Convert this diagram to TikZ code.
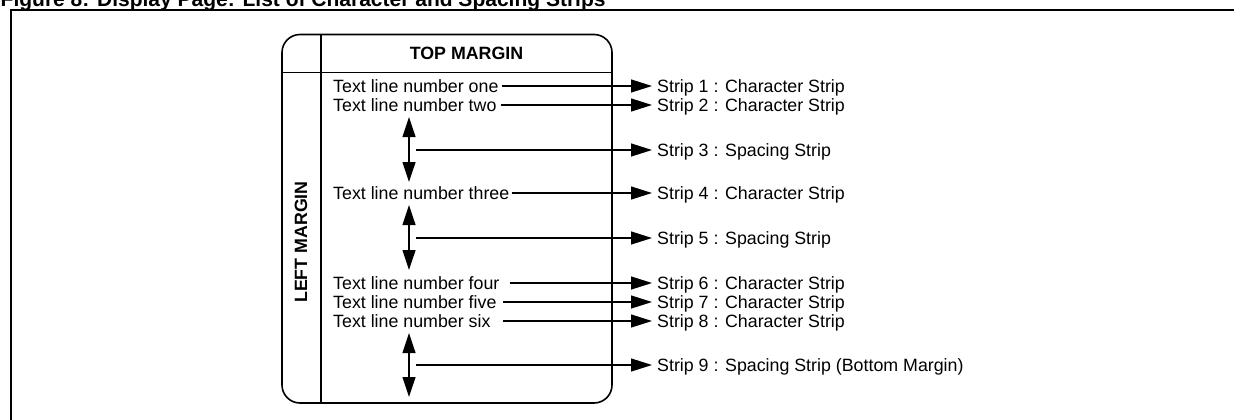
\documentclass[tikz,border=0pt]{standalone}
\usepackage{fontspec}
\setmainfont{Liberation Sans}
\usetikzlibrary{arrows.meta}
\begin{document}
\begin{tikzpicture}[x=1pt,y=-1pt,
  every node/.style={font=\fontsize{17.8}{18}\selectfont, inner sep=0pt},
  txt/.style={anchor=west, text height=12.8pt, text depth=0pt},
  lbl/.style={anchor=west, inner xsep=5pt, text height=12.8pt, text depth=0pt},
  hdr/.style={font=\bfseries\fontsize{17.8}{18}\selectfont},
  conn/.style={line width=1.2pt, -{Triangle[length=21pt,width=13pt]}},
  dbl/.style={line width=1.2pt, {Triangle[length=20pt,width=13pt]}-{Triangle[length=20pt,width=13pt]}},
  frame/.style={line width=1.5pt},
  pagebox/.style={line width=1.6pt, rounded corners=18pt}]
\useasboundingbox (0,0) rectangle (1234,420);

% title and outer frame
\node[anchor=base west, font=\bfseries\fontsize{21}{21}\selectfont] (title) at (0.5,7)
  {Figure 8: Display Page: List of Character and Spacing Strips};
\draw[frame] (11,421) -- (11,10) -- (1235,10);

% display page
\draw[pagebox] (282,34.5) rectangle (612,403);
\draw[line width=1.5pt] (321,34.5) -- (321,403);
\draw[line width=1.5pt] (282,72.5) -- (612,72.5);
\node[hdr] (top) at (466.5,53.5) {TOP MARGIN};
\node[hdr, rotate=90] (left) at (301,242) {LEFT MARGIN};

% text lines
\node[txt] (t1) at (333,86) {Text line number one};
\node[txt] (t2) at (333,105) {Text line number two};
\node[txt] (t3) at (333,193) {Text line number three};
\node[txt] (t4) at (333,283) {Text line number four};
\node[txt] (t5) at (333,302) {Text line number five};
\node[txt] (t6) at (333,321) {Text line number six};

% strip labels
\node[lbl] (s1) at (652,86) {Strip 1 : Character Strip};
\node[lbl] (s2) at (652,105) {Strip 2 : Character Strip};
\node[lbl] (s3) at (652,150) {Strip 3 : Spacing Strip};
\node[lbl] (s4) at (652,193) {Strip 4 : Character Strip};
\node[lbl] (s5) at (652,238) {Strip 5 : Spacing Strip};
\node[lbl] (s6) at (652,283) {Strip 6 : Character Strip};
\node[lbl] (s7) at (652,302) {Strip 7 : Character Strip};
\node[lbl] (s8) at (652,321) {Strip 8 : Character Strip};
\node[lbl] (s9) at (652,365) {Strip 9 : Spacing Strip (Bottom Margin)};

% character strip connectors
\draw[conn, shorten <=3pt] (t1.east) -- (s1.west);
\draw[conn, shorten <=4pt] (t2.east) -- (s2.west);
\draw[conn, shorten <=2pt] (t3.east) -- (s4.west);
\draw[conn, shorten <=10pt] (t4.east) -- (s6.west);
\draw[conn, shorten <=6pt] (t5.east) -- (s7.west);
\draw[conn, shorten <=12pt] (t6.east) -- (s8.west);

% spacing strips
\coordinate (a1t) at (409,117);
\coordinate (a1b) at (409,182);
\coordinate (h1) at (416,150);
\coordinate (a2t) at (409,205);
\coordinate (a2b) at (409,270);
\coordinate (h2) at (416,238);
\coordinate (a3t) at (409,333);
\coordinate (a3b) at (409,397);
\coordinate (h3) at (416,365);
\draw[dbl] (a1t) -- (a1b);
\draw[dbl] (a2t) -- (a2b);
\draw[dbl] (a3t) -- (a3b);
\draw[conn] (h1) -- (s3.west);
\draw[conn] (h2) -- (s5.west);
\draw[conn] (h3) -- (s9.west);
\end{tikzpicture}
\end{document}
